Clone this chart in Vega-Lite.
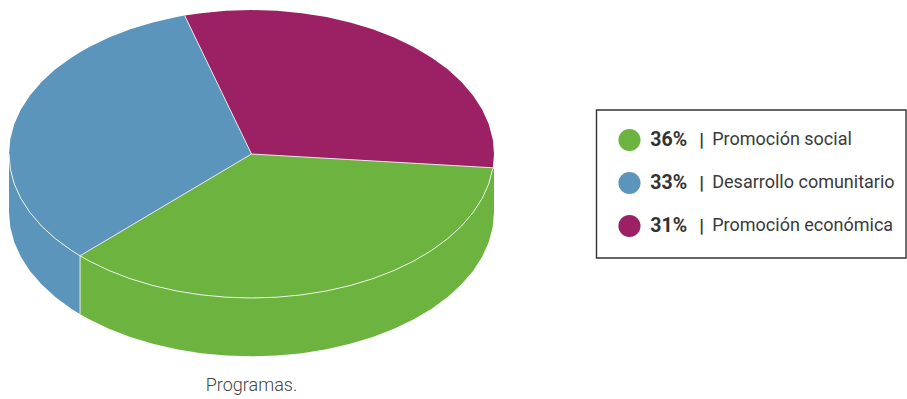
{
"$schema":"https://vega.github.io/schema/vega-lite/v6.json",
"width":907,"height":399,"padding":0,
"autosize":{"type":"fit","contains":"padding"},
"background":"white",
"config":{"view":{"stroke":null}},
"datasets":{
"contorno":[
{"programa":"Desarrollo comunitario","part":"pared","x":-1,"y":0,"y2":-0.405},
{"programa":"Desarrollo comunitario","part":"pared","x":-0.9945,"y":-0.1045,"y2":-0.5095},
{"programa":"Desarrollo comunitario","part":"pared","x":-0.9781,"y":-0.2079,"y2":-0.6129},
{"programa":"Desarrollo comunitario","part":"pared","x":-0.9511,"y":-0.309,"y2":-0.714},
{"programa":"Desarrollo comunitario","part":"pared","x":-0.9135,"y":-0.4067,"y2":-0.8117},
{"programa":"Desarrollo comunitario","part":"pared","x":-0.866,"y":-0.5,"y2":-0.905},
{"programa":"Desarrollo comunitario","part":"pared","x":-0.809,"y":-0.5878,"y2":-0.9928},
{"programa":"Desarrollo comunitario","part":"pared","x":-0.7431,"y":-0.6691,"y2":-1.0741},
{"programa":"Desarrollo comunitario","part":"pared","x":-0.707,"y":-0.707,"y2":-1.112},
{"programa":"Promoción social","part":"pared","x":-0.707,"y":-0.707,"y2":-1.112},
{"programa":"Promoción social","part":"pared","x":-0.6691,"y":-0.7431,"y2":-1.1481},
{"programa":"Promoción social","part":"pared","x":-0.5878,"y":-0.809,"y2":-1.214},
{"programa":"Promoción social","part":"pared","x":-0.5,"y":-0.866,"y2":-1.271},
{"programa":"Promoción social","part":"pared","x":-0.4067,"y":-0.9135,"y2":-1.3185},
{"programa":"Promoción social","part":"pared","x":-0.309,"y":-0.9511,"y2":-1.3561},
{"programa":"Promoción social","part":"pared","x":-0.2079,"y":-0.9781,"y2":-1.3831},
{"programa":"Promoción social","part":"pared","x":-0.1045,"y":-0.9945,"y2":-1.3995},
{"programa":"Promoción social","part":"pared","x":0,"y":-1,"y2":-1.405},
{"programa":"Promoción social","part":"pared","x":0.1045,"y":-0.9945,"y2":-1.3995},
{"programa":"Promoción social","part":"pared","x":0.2079,"y":-0.9781,"y2":-1.3831},
{"programa":"Promoción social","part":"pared","x":0.309,"y":-0.9511,"y2":-1.3561},
{"programa":"Promoción social","part":"pared","x":0.4067,"y":-0.9135,"y2":-1.3185},
{"programa":"Promoción social","part":"pared","x":0.5,"y":-0.866,"y2":-1.271},
{"programa":"Promoción social","part":"pared","x":0.5878,"y":-0.809,"y2":-1.214},
{"programa":"Promoción social","part":"pared","x":0.6691,"y":-0.7431,"y2":-1.1481},
{"programa":"Promoción social","part":"pared","x":0.7431,"y":-0.6691,"y2":-1.0741},
{"programa":"Promoción social","part":"pared","x":0.809,"y":-0.5878,"y2":-0.9928},
{"programa":"Promoción social","part":"pared","x":0.866,"y":-0.5,"y2":-0.905},
{"programa":"Promoción social","part":"pared","x":0.9135,"y":-0.4067,"y2":-0.8117},
{"programa":"Promoción social","part":"pared","x":0.9511,"y":-0.309,"y2":-0.714},
{"programa":"Promoción social","part":"pared","x":0.9781,"y":-0.2079,"y2":-0.6129},
{"programa":"Promoción social","part":"pared","x":0.9945,"y":-0.1045,"y2":-0.5095},
{"programa":"Promoción social","part":"pared","x":1,"y":-0.0958,"y2":-0.405},

{"programa":"Promoción social","part":"cara","x":-0.707,"y":-0.707,"y2":-0.707},
{"programa":"Promoción social","part":"cara","x":-0.6691,"y":-0.6691,"y2":-0.7431},
{"programa":"Promoción social","part":"cara","x":-0.5878,"y":-0.5878,"y2":-0.809},
{"programa":"Promoción social","part":"cara","x":-0.5,"y":-0.5,"y2":-0.866},
{"programa":"Promoción social","part":"cara","x":-0.4067,"y":-0.4067,"y2":-0.9135},
{"programa":"Promoción social","part":"cara","x":-0.309,"y":-0.309,"y2":-0.9511},
{"programa":"Promoción social","part":"cara","x":-0.2079,"y":-0.2079,"y2":-0.9781},
{"programa":"Promoción social","part":"cara","x":-0.1045,"y":-0.1045,"y2":-0.9945},
{"programa":"Promoción social","part":"cara","x":0,"y":0,"y2":-1},
{"programa":"Promoción social","part":"cara","x":0.1045,"y":-0.0101,"y2":-0.9945},
{"programa":"Promoción social","part":"cara","x":0.2079,"y":-0.02,"y2":-0.9781},
{"programa":"Promoción social","part":"cara","x":0.309,"y":-0.0297,"y2":-0.9511},
{"programa":"Promoción social","part":"cara","x":0.4067,"y":-0.0391,"y2":-0.9135},
{"programa":"Promoción social","part":"cara","x":0.5,"y":-0.0481,"y2":-0.866},
{"programa":"Promoción social","part":"cara","x":0.5878,"y":-0.0565,"y2":-0.809},
{"programa":"Promoción social","part":"cara","x":0.6691,"y":-0.0644,"y2":-0.7431},
{"programa":"Promoción social","part":"cara","x":0.7431,"y":-0.0715,"y2":-0.6691},
{"programa":"Promoción social","part":"cara","x":0.809,"y":-0.0778,"y2":-0.5878},
{"programa":"Promoción social","part":"cara","x":0.866,"y":-0.0833,"y2":-0.5},
{"programa":"Promoción social","part":"cara","x":0.9135,"y":-0.0879,"y2":-0.4067},
{"programa":"Promoción social","part":"cara","x":0.9511,"y":-0.0915,"y2":-0.309},
{"programa":"Promoción social","part":"cara","x":0.9781,"y":-0.0941,"y2":-0.2079},
{"programa":"Promoción social","part":"cara","x":0.9945,"y":-0.0957,"y2":-0.1045},
{"programa":"Promoción social","part":"cara","x":0.9954,"y":-0.0958,"y2":-0.0958},

{"programa":"Desarrollo comunitario","part":"cara","x":-1,"y":0,"y2":0},
{"programa":"Desarrollo comunitario","part":"cara","x":-0.9945,"y":0.1045,"y2":-0.1045},
{"programa":"Desarrollo comunitario","part":"cara","x":-0.9781,"y":0.2079,"y2":-0.2079},
{"programa":"Desarrollo comunitario","part":"cara","x":-0.9511,"y":0.309,"y2":-0.309},
{"programa":"Desarrollo comunitario","part":"cara","x":-0.9135,"y":0.4067,"y2":-0.4067},
{"programa":"Desarrollo comunitario","part":"cara","x":-0.866,"y":0.5,"y2":-0.5},
{"programa":"Desarrollo comunitario","part":"cara","x":-0.809,"y":0.5878,"y2":-0.5878},
{"programa":"Desarrollo comunitario","part":"cara","x":-0.7431,"y":0.6691,"y2":-0.6691},
{"programa":"Desarrollo comunitario","part":"cara","x":-0.707,"y":0.7071,"y2":-0.707},
{"programa":"Desarrollo comunitario","part":"cara","x":-0.6691,"y":0.7431,"y2":-0.6691},
{"programa":"Desarrollo comunitario","part":"cara","x":-0.5878,"y":0.809,"y2":-0.5878},
{"programa":"Desarrollo comunitario","part":"cara","x":-0.5,"y":0.866,"y2":-0.5},
{"programa":"Desarrollo comunitario","part":"cara","x":-0.4067,"y":0.9135,"y2":-0.4067},
{"programa":"Desarrollo comunitario","part":"cara","x":-0.309,"y":0.9511,"y2":-0.309},
{"programa":"Desarrollo comunitario","part":"cara","x":-0.2756,"y":0.9613,"y2":-0.2756},
{"programa":"Desarrollo comunitario","part":"cara","x":-0.2079,"y":0.7251,"y2":-0.2079},
{"programa":"Desarrollo comunitario","part":"cara","x":-0.1045,"y":0.3645,"y2":-0.1045},
{"programa":"Desarrollo comunitario","part":"cara","x":0,"y":0,"y2":0},

{"programa":"Promoción económica","part":"cara","x":-0.2756,"y":0.9613,"y2":0.9613},
{"programa":"Promoción económica","part":"cara","x":-0.2079,"y":0.9781,"y2":0.7251},
{"programa":"Promoción económica","part":"cara","x":-0.1045,"y":0.9945,"y2":0.3645},
{"programa":"Promoción económica","part":"cara","x":0,"y":1,"y2":0},
{"programa":"Promoción económica","part":"cara","x":0.1045,"y":0.9945,"y2":-0.0101},
{"programa":"Promoción económica","part":"cara","x":0.2079,"y":0.9781,"y2":-0.02},
{"programa":"Promoción económica","part":"cara","x":0.309,"y":0.9511,"y2":-0.0297},
{"programa":"Promoción económica","part":"cara","x":0.4067,"y":0.9135,"y2":-0.0391},
{"programa":"Promoción económica","part":"cara","x":0.5,"y":0.866,"y2":-0.0481},
{"programa":"Promoción económica","part":"cara","x":0.5878,"y":0.809,"y2":-0.0565},
{"programa":"Promoción económica","part":"cara","x":0.6691,"y":0.7431,"y2":-0.0644},
{"programa":"Promoción económica","part":"cara","x":0.7431,"y":0.6691,"y2":-0.0715},
{"programa":"Promoción económica","part":"cara","x":0.809,"y":0.5878,"y2":-0.0778},
{"programa":"Promoción económica","part":"cara","x":0.866,"y":0.5,"y2":-0.0833},
{"programa":"Promoción económica","part":"cara","x":0.9135,"y":0.4067,"y2":-0.0879},
{"programa":"Promoción económica","part":"cara","x":0.9511,"y":0.309,"y2":-0.0915},
{"programa":"Promoción económica","part":"cara","x":0.9781,"y":0.2079,"y2":-0.0941},
{"programa":"Promoción económica","part":"cara","x":0.9945,"y":0.1045,"y2":-0.0957},
{"programa":"Promoción económica","part":"cara","x":0.9954,"y":0.0958,"y2":-0.0958},
{"programa":"Promoción económica","part":"cara","x":1,"y":0,"y2":0}
],
"radios":[
{"radio":"social-comunitario","x":0,"y":0},
{"radio":"social-comunitario","x":-0.707,"y":-0.707},
{"radio":"comunitario-economica","x":0,"y":0},
{"radio":"comunitario-economica","x":-0.2756,"y":0.9613},
{"radio":"economica-social","x":0,"y":0},
{"radio":"economica-social","x":0.9954,"y":-0.0958},
{"radio":"arista","x":-0.707,"y":-0.707},
{"radio":"arista","x":-0.707,"y":-1.112}
],
"leyenda":[
{"orden":1,"porcentaje":"36%","programa":"Promoción social"},
{"orden":2,"porcentaje":"33%","programa":"Desarrollo comunitario"},
{"orden":3,"porcentaje":"31%","programa":"Promoción económica"}
]
},
"resolve":{"scale":{"x":"independent","y":"independent"}},
"layer":[
{
"layer":[
{"data":{"name":"contorno"},"transform":[{"filter":"datum.part==='pared'"}],
 "mark":{"type":"area","orient":"vertical"},
 "encoding":{
  "x":{"field":"x","type":"quantitative","axis":null,"scale":{"domain":[-1,1],"range":[9,494]}},
  "y":{"field":"y","type":"quantitative","axis":null,"stack":null,"scale":{"domain":[-1,1],"range":[298,10]}},
  "y2":{"field":"y2"},
  "color":{"field":"programa","type":"nominal","legend":null,"scale":{"domain":["Promoción social","Desarrollo comunitario","Promoción económica"],"range":["#6cb43f","#5b95bb","#9b2064"]}}
 }},
{"data":{"name":"contorno"},"transform":[{"filter":"datum.part==='cara'"}],
 "mark":{"type":"area","orient":"vertical"},
 "encoding":{
  "x":{"field":"x","type":"quantitative","axis":null},
  "y":{"field":"y","type":"quantitative","axis":null,"stack":null},
  "y2":{"field":"y2"},
  "color":{"field":"programa","type":"nominal","legend":null}
 }},
{"data":{"name":"contorno"},"transform":[{"filter":"datum.part==='pared'"}],
 "mark":{"type":"line","color":"#eaf3df","strokeWidth":1},
 "encoding":{
  "x":{"field":"x","type":"quantitative","axis":null},
  "y":{"field":"y","type":"quantitative","axis":null,"stack":null},
  "detail":{"field":"programa"}
 }},
{"data":{"name":"radios"},
 "mark":{"type":"line","color":"#e6e6ea","strokeWidth":1},
 "encoding":{
  "x":{"field":"x","type":"quantitative","axis":null},
  "y":{"field":"y","type":"quantitative","axis":null,"stack":null},
  "detail":{"field":"radio"}
 }},
{"data":{"values":[{"pie":"Programas."}]},
 "mark":{"type":"text","font":"Roboto","fontWeight":300,"fontSize":18,"color":"#444444","align":"center","baseline":"middle"},
 "encoding":{
  "x":{"datum":0,"type":"quantitative","axis":null},
  "y":{"datum":-1.611,"type":"quantitative","axis":null},
  "text":{"field":"pie"}
 }}
]
},
{
"layer":[
{"data":{"values":[{"marco":"leyenda"}]},
 "mark":{"type":"rect","fill":"white","stroke":"#333333","strokeWidth":1.4},
 "encoding":{
  "x":{"datum":0,"type":"quantitative","axis":null,"scale":{"domain":[0,100],"range":[596.5,906]}},
  "x2":{"datum":100},
  "y":{"datum":0.302,"type":"quantitative","axis":null,"scale":{"domain":[1,3],"range":[140,226]}},
  "y2":{"datum":3.744}
 }},
{"data":{"name":"leyenda"},
 "mark":{"type":"point","filled":true,"shape":"circle","size":490,"opacity":1},
 "encoding":{
  "x":{"datum":10.65,"type":"quantitative","axis":null},
  "y":{"field":"orden","type":"quantitative","axis":null},
  "color":{"field":"programa","type":"nominal","legend":null}
 }},
{"data":{"name":"leyenda"},
 "mark":{"type":"text","font":"Roboto","fontSize":19.5,"fontWeight":"bold","color":"#333333","align":"left","baseline":"middle"},
 "encoding":{
  "x":{"datum":17.4,"type":"quantitative","axis":null},
  "y":{"field":"orden","type":"quantitative","axis":null},
  "text":{"field":"porcentaje"}
 }},
{"data":{"name":"leyenda"},
 "mark":{"type":"text","font":"Roboto","fontSize":19,"fontWeight":"bold","color":"#333333","align":"center","baseline":"middle"},
 "encoding":{
  "x":{"datum":34,"type":"quantitative","axis":null},
  "y":{"field":"orden","type":"quantitative","axis":null},
  "text":{"value":"|"}
 }},
{"data":{"name":"leyenda"},
 "mark":{"type":"text","font":"Roboto","fontSize":18,"color":"#3a3a3a","align":"left","baseline":"middle"},
 "encoding":{
  "x":{"datum":37.4,"type":"quantitative","axis":null},
  "y":{"field":"orden","type":"quantitative","axis":null},
  "text":{"field":"programa"}
 }}
]
}
]
}
